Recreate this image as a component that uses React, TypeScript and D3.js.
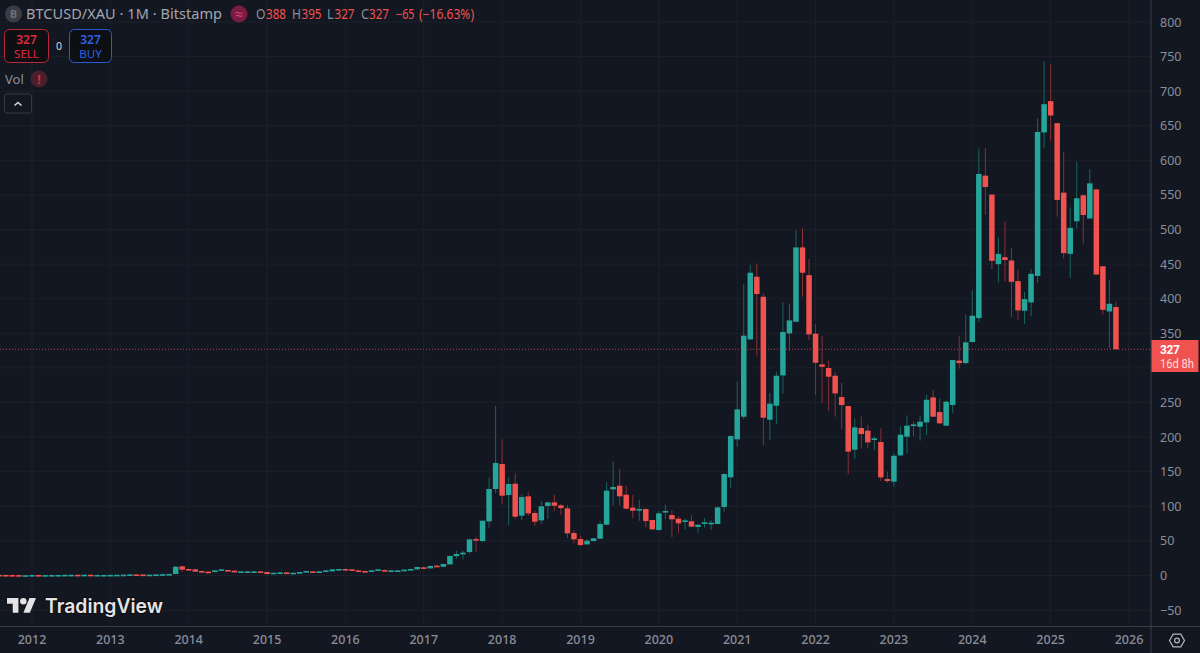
import React, { useEffect, useRef } from 'react';
import * as d3 from 'd3';

const WIDTH = 1200;
const HEIGHT = 653;
const AXIS_X = 1151;
const AXIS_Y = 626.5;

// monthly candles, first one is Aug 2011
const opens = [
  0.9, 0.8, 0.7, 0.6, 0.3,
  0.4, 0.7, 0.4, 0.6, 0.7, 0.8, 0.9, 1.0, 0.8, 1.1, 0.7, 0.8,
  0.8, 0.9, 1.0, 1.2, 1.6, 1.4, 1.0, 1.2, 1.5, 1.8, 2.2, 13.2,
  9.4, 8.9, 6.5, 5.5, 5, 7.4, 7.9, 7, 5, 5, 5, 6,
  5, 2.6, 3.6, 4.5, 3.1, 4, 4.5, 6, 5, 5.5, 6, 7.9,
  9.4, 8.9, 7.4, 6.5, 5.5, 7, 7.9, 6, 6.5, 7, 7.4, 8.9,
  11.8, 10.3, 14.2, 12.7, 16.1, 28, 30.6, 34, 52.7, 49.8, 78.3, 125,
  161.1, 116.3, 132.7, 86.4, 114.4, 90.3, 79.7, 100.5, 105.7, 101.4, 97, 61.4,
  52.7, 45, 49.8, 53.2, 73.4, 124.5, 129.8, 116.8, 98, 94.2, 96.1, 80.2,
  65.7, 91.7, 87.4, 82.1, 78.3, 78.3, 70.1, 75.4, 75.4, 74.4, 99, 141.9,
  196.8, 229.5, 341.3, 431.8, 402.9, 225.2, 245.4, 289.2, 349.9, 366.8, 474.2, 434.2,
  349.4, 305.1, 299.8, 288.7, 257.9, 244.9, 181.8, 213.1, 209.3, 195.8, 192.9, 139.4,
  135.6, 173.6, 200.6, 216, 215, 221.3, 257.4, 236.2, 216.5, 246.4, 310.6, 307,
  337.5, 372, 577.9, 550.5, 450, 460, 455.3, 425.5, 382.7, 394.7, 433, 640.4,
  685.6, 653.8, 553.4, 464.9, 512, 549.5, 516, 558, 447, 381.7, 388,
];
const closes = [
  0.8, 0.7, 0.6, 0.3, 0.4,
  0.7, 0.4, 0.6, 0.7, 0.8, 0.9, 1.0, 0.8, 1.1, 0.7, 0.8, 0.8,
  0.9, 1.0, 1.2, 1.6, 1.4, 1.0, 1.2, 1.5, 1.8, 2.2, 12.7, 8.4,
  8.4, 5.5, 5.5, 5, 7.4, 8.9, 7, 4.5, 6, 6, 6, 5,
  2.1, 4, 4.5, 3.1, 4, 5, 6.5, 4.5, 6, 7.4, 8.9, 9.4,
  7.9, 7.4, 6, 5, 7.4, 8.9, 6.5, 7.4, 7.4, 8.4, 9.4, 12.3,
  10.3, 13.7, 12.7, 16.6, 28.2, 31, 33, 52.2, 51.8, 79.2, 125, 162.6,
  115.3, 132.2, 85, 113.4, 89.8, 77.8, 100, 105.7, 100.9, 97.5, 60.9, 52.2,
  44, 50.3, 53.7, 74.4, 122.6, 127.9, 114.4, 96.6, 93.7, 96.1, 78.7, 66.7,
  89.8, 93.3, 81.2, 75.4, 79.7, 70.6, 73.4, 76.9, 76.3, 98.5, 146.7, 201.6,
  240.1, 346.6, 437.6, 406.8, 228.1, 248.3, 288.7, 351.9, 368.7, 474.2, 437.6, 348.5,
  307.5, 301.7, 287.3, 263.2, 246.4, 179, 214.1, 204.4, 192.4, 198.2, 141.8, 136.5,
  173.1, 203.5, 216.5, 218.4, 222.3, 254, 229.5, 219.9, 251.2, 311.4, 307, 337,
  375.5, 580.3, 561.5, 454.8, 464.9, 456, 424.5, 383.2, 399.5, 436, 641, 681.2,
  664.9, 542.8, 465.9, 502.4, 545.2, 521, 566.8, 435, 384, 392.8, 327,
];
const highs = [
  1.2, 1.0, 0.9, 0.7, 0.5,
  0.9, 0.9, 0.8, 0.9, 1, 1.1, 1.2, 1.2, 1.3, 1.2, 1, 1,
  1.1, 1.2, 1.5, 1.9, 1.8, 1.5, 1.4, 1.7, 2, 2.5, 13.5, 14.2,
  9.9, 9.4, 6.9, 6, 7.6, 9.2, 8.3, 7.3, 6.4, 6.3, 6.3, 6.4,
  5.3, 4.3, 4.8, 4.8, 4.3, 5.3, 6.8, 6.3, 6.3, 7.7, 9.2, 9.7,
  9.8, 9.2, 7.7, 6.8, 7.7, 9.3, 8.2, 7.7, 7.7, 8.7, 9.8, 12.7,
  12.6, 14.2, 15.6, 17, 28.8, 36, 35.9, 53.7, 56.1, 79.2, 141.8, 244.9,
  196.8, 142.8, 147.6, 117.3, 120.2, 93.2, 107.6, 106.7, 116.3, 103.3, 101.9, 65.7,
  57.5, 52.2, 54.5, 78.3, 135.1, 165, 153.9, 129.8, 116.3, 109.6, 97, 81,
  93.2, 102.4, 94.2, 85.5, 82.6, 86.9, 74, 83.1, 79.7, 100, 147.5, 202.5,
  280, 421, 448.7, 450.6, 407.7, 263.7, 294.5, 395.2, 393.3, 499.2, 501.7, 457.3,
  363.4, 346.6, 310.9, 294, 278.6, 245.5, 227.1, 229.5, 217.4, 201.6, 212.6, 150,
  176.5, 216, 231.4, 222.3, 231.4, 261.3, 268, 256, 252.6, 312, 346, 377,
  412, 617, 618, 550.5, 489, 511.5, 473, 441.8, 409.6, 443, 660.6, 743,
  739, 653.8, 612.5, 532, 598, 551.4, 587, 558, 447, 427, 396,
];
const lows = [
  0.7, 0.6, 0.4, 0.2, 0.2,
  0.3, 0.3, 0.3, 0.5, 0.6, 0.7, 0.8, 0.7, 0.7, 0.6, 0.6, 0.7,
  0.7, 0.8, 0.9, 1.1, 1.2, 0.9, 0.9, 1.1, 1.4, 1.7, 2, 5.5,
  8, 5.2, 5.1, 4.7, 4.8, 7.1, 6.7, 4.2, 4.7, 4.7, 4.7, 4.6,
  1.8, 2.3, 3.3, 2.8, 2.8, 3.7, 4.2, 4.2, 4.7, 5.2, 5.7, 7.6,
  7.6, 7.1, 5.7, 4.7, 5.2, 6.7, 6.2, 5.7, 6.2, 6.7, 7.1, 8.6,
  9.8, 10, 11.8, 12.2, 15.7, 24, 23.3, 31, 34, 48.4, 69.1, 118.7,
  103.3, 72.5, 82.1, 80.2, 86, 71.5, 74.4, 81.6, 93.2, 87.4, 54.2, 46.5,
  43, 44.5, 49.3, 52.8, 72.9, 101.4, 101.4, 95.6, 83, 79.2, 70, 65.7,
  64.8, 81.2, 55.1, 61.9, 66.7, 69.8, 61.9, 69.1, 65.7, 73.9, 92, 127,
  186, 226, 340.5, 318.1, 188.1, 195.8, 218.9, 263.2, 324.9, 366, 402.9, 340.3,
  260.8, 249.2, 238.2, 229.5, 211.7, 146.6, 168.8, 183.7, 183.7, 181.3, 136.5, 134,
  128.3, 172, 176.5, 201.6, 194.8, 203, 229, 219, 216, 235.3, 299.3, 305,
  337, 366, 521.6, 442.8, 423.6, 425, 373.5, 369.7, 363.5, 374.5, 422.6, 617.3,
  628.4, 518.7, 457.7, 429.8, 502, 480, 515, 435, 377, 329, 327,
];

const priceTicks = [800, 750, 700, 650, 600, 550, 500, 450, 400, 350, 300, 250, 200, 150, 100, 50, 0, -50];
const yearTicks = [2012, 2013, 2014, 2015, 2016, 2017, 2018, 2019, 2020, 2021, 2022, 2023, 2024, 2025, 2026];
const lastPrice = 327;
// 300 sits behind the last price label in the picture
const hiddenTick = 300;
const ohlcLabels = ['O', '388', 'H', '395', 'L', '327', 'C', '327', '−65', '(−16.63%)'];

const UP = '#26a69a';
const DOWN = '#f0524f';
const UP_WICK = '#18655f';
const DOWN_WICK = '#8a2f33';
const GRID = '#1c202b';
const BORDER = '#3a3d48';
const MUTED = '#8b8e98';
const FONT = '"Noto Sans", sans-serif';

// left edge and width of each legend piece
const ohlcX = [256, 266, 292, 301.5, 327, 334.5, 361, 369, 396, 419];
const ohlcW = [9.5, 20, 9, 20, 6.5, 20, 8, 20, 18.5, 55];

// month index: Jan 2012 is 5 (five candles in 2011)
const x = d3.scaleLinear().domain([5, 173]).range([32, 1129]);
const y = d3.scaleLinear().domain([0, 800]).range([575.5, 22]);
const yearIndex = (yr: number) => 5 + (yr - 2012) * 12;

const App: React.FC = () => {
  const plotRef = useRef<SVGGElement>(null);

  useEffect(() => {
    if (!plotRef.current) return;
    const plot = d3.select(plotRef.current);
    plot.selectAll('*').remove();

    plot.append('g').selectAll('line').data(priceTicks).join('line')
      .attr('x1', 0).attr('x2', AXIS_X)
      .attr('y1', d => y(d)).attr('y2', d => y(d))
      .attr('stroke', GRID);
    plot.append('g').selectAll('line').data(yearTicks).join('line')
      .attr('x1', d => x(yearIndex(d))).attr('x2', d => x(yearIndex(d)))
      .attr('y1', 0).attr('y2', AXIS_Y)
      .attr('stroke', GRID);

    const candles = d3.range(opens.length);
    plot.append('g').selectAll('line').data(candles).join('line')
      .attr('x1', i => x(i)).attr('x2', i => x(i))
      .attr('y1', i => y(highs[i])).attr('y2', i => y(lows[i]))
      .attr('stroke', i => (closes[i] >= opens[i] ? UP_WICK : DOWN_WICK))
      .attr('stroke-width', 1);
    plot.append('g').selectAll('rect').data(candles).join('rect')
      .attr('x', i => x(i) - 2.75)
      .attr('width', 5.5)
      .attr('y', i => y(Math.max(opens[i], closes[i])))
      .attr('height', i => Math.max(1.6, Math.abs(y(opens[i]) - y(closes[i]))))
      .attr('fill', i => (closes[i] >= opens[i] ? UP : DOWN));

    plot.append('line')
      .attr('x1', 0).attr('x2', AXIS_X)
      .attr('y1', y(lastPrice)).attr('y2', y(lastPrice))
      .attr('stroke', DOWN).attr('stroke-opacity', 0.75)
      .attr('stroke-dasharray', '1 2');
  }, []);

  return (
    <div style={{ position: 'absolute', left: 0, top: 0, width: WIDTH, height: HEIGHT }}>
      <svg width={WIDTH} height={HEIGHT} style={{ display: 'block', background: '#131722' }} fontFamily={FONT}>
        <g ref={plotRef} />

        {/* axes */}
        <line x1={AXIS_X} x2={AXIS_X} y1={0} y2={HEIGHT} stroke={BORDER} />
        <line x1={0} x2={WIDTH} y1={AXIS_Y} y2={AXIS_Y} stroke={BORDER} />
        {priceTicks.filter(t => t !== hiddenTick).map(t => (
          <text key={t} x={1160} y={y(t) + 4.5} fontSize={12.5} fill={MUTED}>
            {t < 0 ? `\u2212${-t}` : t}
          </text>
        ))}
        {yearTicks.map(t => (
          <text key={t} x={x(yearIndex(t))} y={644} fontSize={12.5} fontWeight={500} fill={MUTED} textAnchor="middle">
            {t}
          </text>
        ))}

        {/* last price label */}
        <rect x={1151.5} y={340} width={47} height={32} fill={DOWN} />
        <text x={1160} y={353.5} fontSize={12} fontWeight={700} fill="#fff" fontFamily="Roboto" textLength={20}>327</text>
        <text x={1160} y={367.6} fontSize={12} fill="#ffdedb" fontFamily="Roboto" textLength={34} lengthAdjust="spacingAndGlyphs">16d 8h</text>

        {/* settings button */}
        <g transform="translate(1177,640.5)" fill="none" stroke="#b2b5be" strokeWidth={1.2}>
          <path d="M-7.5,0 L-3.8,-6.3 L3.8,-6.3 L7.5,0 L3.8,6.3 L-3.8,6.3 Z" />
          <circle r={2.4} />
        </g>

        {/* legend */}
        <circle cx={13.5} cy={14} r={8.5} fill="#3a3d46" />
        <text x={13.5} y={18} fontSize={10.5} fontWeight={700} fill="#6f727c" textAnchor="middle">B</text>
        <text x={26} y={19} fontSize={14.5} fill="#a3a6af" textLength={196}>BTCUSD/XAU · 1M · Bitstamp</text>
        <circle cx={239} cy={14} r={8.5} fill="#7a1b42" />
        <text x={239} y={18.5} fontSize={14} fill="#e0457b" textAnchor="middle">≈</text>
        {ohlcLabels.map((label, i) => (
          <text key={i} x={ohlcX[i]} y={19} fontSize={13.5} fill={i < 8 && i % 2 === 0 ? MUTED : DOWN}
            textLength={ohlcW[i]} lengthAdjust="spacingAndGlyphs">
            {label}
          </text>
        ))}

        {/* order buttons */}
        <rect x={4.5} y={29.5} width={44} height={33} rx={5} fill="#0e0f13" stroke="#b5293c" />
        <text x={26.5} y={44} fontSize={12} fontWeight={600} fill="#e0293f" textAnchor="middle">327</text>
        <text x={26.5} y={58} fontSize={11.5} fill="#e0293f" textAnchor="middle">SELL</text>
        <text x={59} y={50} fontSize={10.5} fill="#d6d8de" textAnchor="middle">0</text>
        <rect x={69.5} y={29.5} width={42} height={33} rx={5} fill="#0e0f13" stroke="#2a5bd7" />
        <text x={90.5} y={44} fontSize={12} fontWeight={600} fill="#2d62e6" textAnchor="middle">327</text>
        <text x={90.5} y={58} fontSize={11.5} fill="#2d62e6" textAnchor="middle">BUY</text>

        {/* volume legend */}
        <text x={5} y={84} fontSize={13} fill={MUTED}>Vol</text>
        <circle cx={39} cy={79} r={8.5} fill="#47202a" />
        <text x={39} y={83.5} fontSize={12} fontWeight={700} fill="#e0293f" textAnchor="middle">!</text>
        <rect x={4.5} y={94} width={27} height={19} rx={2.5} fill="none" stroke="#363a45" />
        <path d="M14.5,105.5 L18,102.5 L21.5,105.5" fill="none" stroke="#d6d8de" strokeWidth={1.5} />

        {/* watermark */}
        <g transform="translate(7,594.7) scale(0.817)" fill="#e4e4e6" stroke="#0b0c10" strokeWidth={1} paintOrder="stroke">
          <path d="M14 22H7V11H0V4h14v18zM28 22h-8l7.5-18h8L28 22z" />
          <circle cx={20} cy={8} r={4} />
        </g>
        <text x={45} y={612.6} fontSize={19.5} fontWeight={600} fill="#e4e4e6" stroke="#0b0c10" strokeWidth={2} paintOrder="stroke"
          fontFamily="Inter, sans-serif" textLength={118} lengthAdjust="spacingAndGlyphs">TradingView</text>
      </svg>
    </div>
  );
};

export default App;
